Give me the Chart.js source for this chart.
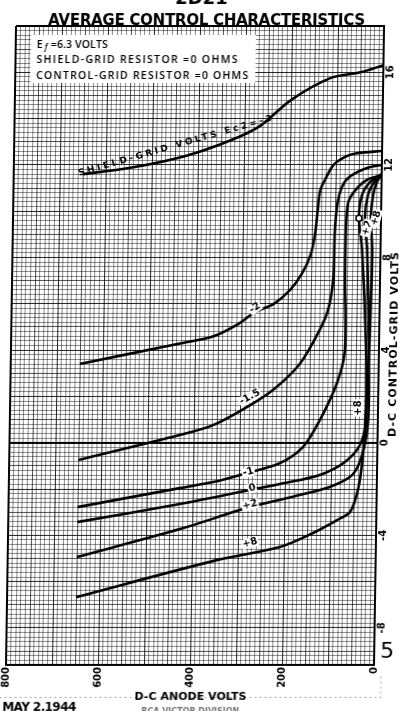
<!DOCTYPE html>
<html>
<head>
<meta charset="utf-8">
<script src="https://cdn.jsdelivr.net/npm/chart.js@4.4.1/dist/chart.umd.min.js"></script>
<style>
html, body { margin: 0; padding: 0; background: #fff; }
#grafica { display: block; transform: skewX(-0.9deg); transform-origin: 0 665px; }
</style>
</head>
<body>
<canvas id="grafica" width="399" height="711"></canvas>
<script>
//--------------------------------------DATOS (volts de placa / volts de rejilla)
var ec2Labels = ["-3", "-2", "-1.5", "-1", "0", "+2", "+8"];

var anodeM3 = [650, 540, 425, 325, 265, 200, 115, 50, 0];
var gridM3 = [11.6, 11.9, 12.4, 13.1, 13.7, 14.8, 15.75, 16.0, 16.3];

var anodeM2 = [650, 430, 360, 305, 270, 230, 195, 170, 152, 143, 138, 133, 122, 105, 80, 55, 0];
var gridM2 = [3.4, 4.3, 4.6, 5.15, 5.65, 6.0, 6.6, 7.3, 8.1, 9.0, 10.0, 10.9, 11.4, 12.0, 12.35, 12.5, 12.6];

var anodeM15 = [650, 430, 358, 285, 229, 177, 143, 114, 102, 100, 96, 86, 69, 32, 0];
var gridM15 = [-0.75, 0.33, 0.76, 1.54, 2.28, 3.27, 4.35, 5.6, 7.0, 9.05, 10.2, 11.05, 11.5, 11.87, 12.0];

var anodeM1 = [650, 428, 356, 283, 211, 162, 126, 90, 74, 76, 76, 72, 57, 32, 0];
var gridM1 = [-2.78, -1.96, -1.7, -1.31, -0.88, -0.19, 0.98, 2.58, 4.0, 6.9, 9.05, 10.35, 10.9, 11.35, 11.55];

var anode0 = [650, 427, 275, 210, 124, 70, 38, 26, 28, 40, 48, 42, 25, 0];
var grid0 = [-3.43, -2.65, -2.04, -1.78, -1.39, -0.83, -0.1, 0.98, 4.0, 8.3, 9.7, 10.7, 11.26, 11.6];

var anodeP2 = [650, 426, 275, 167, 102, 54, 33, 21, 22, 29, 35, 29, 16, 0];
var gridP2 = [-4.94, -3.73, -2.78, -2.26, -1.91, -1.4, -0.53, 0.98, 4.0, 8.3, 9.7, 10.7, 11.26, 11.6];

var anodeP8 = [650, 345, 208, 137, 85, 57, 41, 33, 28, 23, 19, 18, 22, 18, 10, 0];
var gridP8 = [-6.67, -5.07, -4.5, -3.9, -3.34, -2.99, -2.04, -0.96, 0.55, 2.7, 6.15, 8.3, 9.7, 10.7, 11.26, 11.6];

var anodeTickLabels = [800, 600, 400, 200, 0];
var gridTickLabels = [16, 12, 8, 4, 0, -4, -8];

// etiquetas sobre las curvas
var curveLabelText = ["-2", "-1.5", "-1", "0", "+2", "+8", "+8", "+2", "+8"];
var curveLabelAnode = [271, 279, 280, 271, 275, 274, 43, 30, 11];
var curveLabelGrid = [5.82, 1.97, -1.27, -1.96, -2.69, -4.33, 1.5, 9.27, 9.7];
var curveLabelAngle = [-35, -30, -15, -15, -15, -15, -90, -75, -75];

// punto marcado con circulo
var markAnode = 48;
var markGrid = 9.7;

//--------------------------------------REJILLA
var xGrid = [];
for (var i = 0; i <= 80; i++) {
    xGrid.push(i * 10);
}
var yGrid = [];
for (var k = -48; k <= 90; k++) {
    yGrid.push(Math.round(k * 2) / 10);
}

function colorX(ctx) {
    var v = ctx.tick.value;
    if (v === 0 || v === 800) return "#000";
    if (v % 100 === 0) return "rgba(0,0,0,0.85)";
    return v % 50 === 0 ? "rgba(0,0,0,0.68)" : "rgba(0,0,0,0.45)";
}
function grosorX(ctx) {
    var v = ctx.tick.value;
    if (v === 0 || v === 800) return 2;
    return 1;
}
function colorY(ctx) {
    var n = Math.round(ctx.tick.value * 5);
    if (n === 0 || n === 90 || n === -48) return "#000";
    if (n % 10 === 0) return "rgba(0,0,0,0.85)";
    return n % 5 === 0 ? "rgba(0,0,0,0.68)" : "rgba(0,0,0,0.45)";
}
function grosorY(ctx) {
    var n = Math.round(ctx.tick.value * 5);
    if (n === 0 || n === 90 || n === -48) return 2;
    return 1;
}

function puntos(xs, ys) {
    var arr = [];
    for (var i = 0; i < xs.length; i++) {
        arr.push({x: xs[i], y: ys[i]});
    }
    return arr;
}

function curva(xs, ys) {
    return {
        data: puntos(xs, ys),
        borderColor: "#000",
        borderWidth: 2.6,
        pointRadius: 0,
        tension: 0.3,
        fill: false
    };
}

function textoAjustado(ctx, str, x, y, ancho) {
    ctx.letterSpacing = "0px";
    var m = ctx.measureText(str).width;
    var esp = (ancho - m) / Math.max(str.length - 1, 1);
    ctx.letterSpacing = esp + "px";
    ctx.textAlign = "left";
    ctx.fillText(str, x, y);
    ctx.letterSpacing = "0px";
}

//--------------------------------------TEXTOS
var textos = {
    id: "textos",
    afterDatasetsDraw: function (chart) {
        var ctx = chart.ctx;
        var sx = chart.scales.x;
        var sy = chart.scales.y;
        ctx.save();
        ctx.font = "bold 10px 'DejaVu Sans'";
        ctx.textBaseline = "middle";
        for (var i = 0; i < curveLabelText.length; i++) {
            var px = sx.getPixelForValue(curveLabelAnode[i]);
            var py = sy.getPixelForValue(curveLabelGrid[i]);
            var w = ctx.measureText(curveLabelText[i]).width;
            ctx.save();
            ctx.translate(px, py);
            ctx.rotate(curveLabelAngle[i] * Math.PI / 180);
            ctx.fillStyle = "#fff";
            ctx.fillRect(-w / 2 - 1, -5, w + 2, 10);
            ctx.fillStyle = "#000";
            ctx.textAlign = "center";
            ctx.fillText(curveLabelText[i], 0, 0);
            ctx.restore();
        }
        // circulo
        ctx.beginPath();
        ctx.arc(sx.getPixelForValue(markAnode), sy.getPixelForValue(markGrid), 3, 0, Math.PI * 2);
        ctx.fillStyle = "#fff";
        ctx.fill();
        ctx.lineWidth = 1.5;
        ctx.strokeStyle = "#000";
        ctx.stroke();

        // leyenda sobre la curva superior
        ctx.save();
        ctx.translate(sx.getPixelForValue(450), sy.getPixelForValue(12.82));
        ctx.rotate(-16 * Math.PI / 180);
        ctx.font = "bold 9px 'DejaVu Sans'";
        ctx.fillStyle = "#000";
        textoAjustado(ctx, "SHIELD-GRID VOLTS Ec2=" + ec2Labels[0], -100, 0, 200);
        ctx.restore();
        ctx.restore();
    },
    afterDraw: function (chart) {
        var ctx = chart.ctx;
        ctx.save();
        ctx.fillStyle = "#000";
        ctx.textBaseline = "alphabetic";

        ctx.font = "bold 18px 'DejaVu Sans'";
        ctx.textAlign = "center";
        ctx.fillText("2D21", 191, 4);

        ctx.font = "bold 15px 'DejaVu Sans'";
        textoAjustado(ctx, "AVERAGE CONTROL CHARACTERISTICS", 38, 25, 317);

        // recuadro de condiciones
        ctx.fillStyle = "#fff";
        ctx.fillRect(21, 35, 225, 48);
        ctx.fillStyle = "#000";
        ctx.font = "600 10.5px 'Open Sans'";
        ctx.textAlign = "left";
        ctx.fillText("E", 27, 48);
        ctx.font = "italic 600 8px 'Open Sans'";
        ctx.fillText("f", 35, 50);
        ctx.font = "600 10.5px 'Open Sans'";
        textoAjustado(ctx, "=6.3 VOLTS", 41, 48, 57);
        textoAjustado(ctx, "SHIELD-GRID RESISTOR =0 OHMS", 27, 63, 201);
        textoAjustado(ctx, "CONTROL-GRID RESISTOR =0 OHMS", 27, 79, 212);

        // titulos de ejes
        ctx.font = "bold 11px 'DejaVu Sans'";
        textoAjustado(ctx, "D-C ANODE VOLTS", 191 - 56, 700, 112);
        ctx.save();
        ctx.translate(389, 345);
        ctx.rotate(-Math.PI / 2);
        ctx.textBaseline = "middle";
        textoAjustado(ctx, "D-C CONTROL-GRID VOLTS", -92, 0, 185);
        ctx.restore();

        ctx.font = "bold 12px 'DejaVu Sans'";
        textoAjustado(ctx, "MAY 2,1944", 3, 711, 74);

        ctx.fillStyle = "rgba(0,0,0,0.55)";
        ctx.font = "bold 8px 'DejaVu Sans'";
        textoAjustado(ctx, "RCA VICTOR DIVISION", 142, 714, 98);

        ctx.fillStyle = "#000";
        ctx.font = "22px 'DejaVu Sans'";
        ctx.textAlign = "center";
        ctx.fillText("5", 387, 658);

        // linea punteada inferior
        ctx.strokeStyle = "rgba(0,0,0,0.35)";
        ctx.lineWidth = 1;
        ctx.setLineDash([2, 3]);
        ctx.beginPath();
        ctx.moveTo(0, 697.5);
        ctx.lineTo(381, 697.5);
        ctx.lineTo(381, 674);
        ctx.stroke();
        ctx.restore();
    }
};

//--------------------------------------GRAFICA
var datasets = [
    curva(anodeM3, gridM3),
    curva(anodeM2, gridM2),
    curva(anodeM15, gridM15),
    curva(anodeM1, gridM1),
    curva(anode0, grid0),
    curva(anodeP2, gridP2),
    curva(anodeP8, gridP8)
];

var tickFont = {family: "'DejaVu Sans'", size: 10, weight: "bold"};

var grafica = new Chart(document.getElementById("grafica"), {
    type: "line",
    data: {datasets: datasets},
    options: {
        responsive: false,
        animation: false,
        layout: {padding: {left: 6, top: 26, right: 0, bottom: 0}},
        plugins: {
            legend: {display: false},
            tooltip: {enabled: false},
            title: {display: false}
        },
        scales: {
            x: {
                type: "linear",
                position: "bottom",
                reverse: true,
                min: 0,
                max: 800,
                afterBuildTicks: function (s) {
                    s.ticks = xGrid.map(function (v) { return {value: v}; });
                },
                afterFit: function (s) {
                    s.height = 46;
                },
                ticks: {
                    autoSkip: false,
                    minRotation: 90,
                    maxRotation: 90,
                    padding: 2,
                    color: "#000",
                    font: tickFont,
                    callback: function (v) {
                        return anodeTickLabels.indexOf(v) >= 0 ? String(v) : "";
                    }
                },
                grid: {drawTicks: false, color: colorX, lineWidth: grosorX},
                border: {display: true, color: "#000", width: 2}
            },
            y: {
                type: "linear",
                position: "right",
                min: -9.6,
                max: 18,
                afterBuildTicks: function (s) {
                    s.ticks = yGrid.map(function (v) { return {value: v}; });
                },
                afterFit: function (s) {
                    s.width = 25;
                },
                ticks: {
                    autoSkip: false,
                    minRotation: 90,
                    maxRotation: 90,
                    padding: 0,
                    crossAlign: "center",
                    color: "#000",
                    font: tickFont,
                    callback: function (v) {
                        return gridTickLabels.indexOf(v) >= 0 ? String(v) : "";
                    }
                },
                grid: {drawTicks: false, color: colorY, lineWidth: grosorY},
                border: {display: true, color: "#000", width: 2}
            }
        }
    },
    plugins: [textos]
});
</script>
</body>
</html>
